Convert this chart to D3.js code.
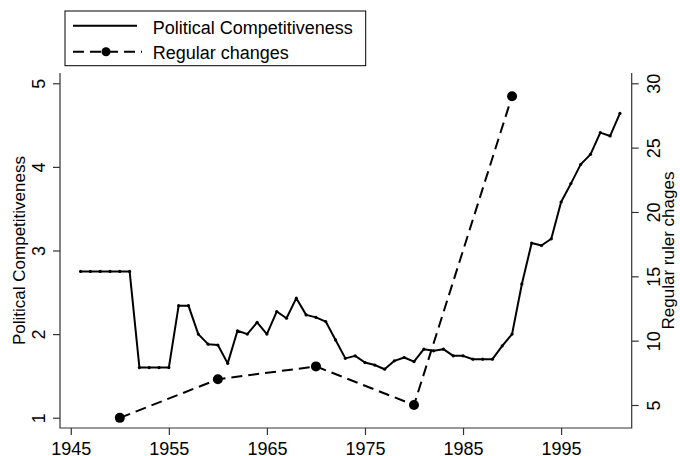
<!DOCTYPE html>
<html>
<head>
<meta charset="utf-8">
<script src="https://cdn.jsdelivr.net/npm/d3@7"></script>
<style>
  html, body { margin: 0; padding: 0; background: #fff; }
  svg { display: block; font-family: "Liberation Sans", Arial, Helvetica, sans-serif; }
</style>
</head>
<body>
<svg id="chart" width="680" height="456"></svg>
<script>
// Political competitiveness index, one value per year
const pcYears = [1946,1947,1948,1949,1950,1951,1952,1953,1954,1955,1956,1957,1958,1959,1960,
  1961,1962,1963,1964,1965,1966,1967,1968,1969,1970,1971,1972,1973,1974,1975,1976,1977,1978,
  1979,1980,1981,1982,1983,1984,1985,1986,1987,1988,1989,1990,1991,1992,1993,1994,1995,1996,
  1997,1998,1999,2000,2001];
const pcValues = [2.75,2.75,2.75,2.75,2.75,2.75,1.60,1.60,1.60,1.60,2.34,2.34,2.00,1.88,1.87,
  1.65,2.04,2.00,2.14,2.00,2.27,2.19,2.43,2.23,2.20,2.15,1.93,1.71,1.74,1.66,1.63,1.58,1.68,
  1.72,1.67,1.82,1.80,1.82,1.74,1.74,1.70,1.70,1.70,1.86,2.00,2.60,3.09,3.06,3.14,3.58,3.80,
  4.03,4.15,4.41,4.37,4.64];

// Regular ruler changes per decade
const rcYears = [1950, 1960, 1970, 1980, 1990];
const rcValues = [4, 7, 8, 5, 29];

// Tick labels
const xTicks = [1945, 1955, 1965, 1975, 1985, 1995];
const leftTicks = [1, 2, 3, 4, 5];
const rightTicks = [5, 10, 15, 20, 25, 30];

const legendLabels = ["Political Competitiveness", "Regular changes"];
const leftTitle = "Political Competitiveness";
const rightTitle = "Regular ruler chages";

const svg = d3.select("#chart");
const L = 60, R = 631.7, T = 73, B = 428;

const x = d3.scaleLinear().domain([1943.9, 2002.2]).range([L, R]);
const yL = d3.scaleLinear().domain([0.877, 5.123]).range([B, T]);
const yR = d3.scaleLinear().domain([3.213, 30.80]).range([B, T]);

const axisColor = "#333";
const axisWidth = 1.2;
const tickFont = 18;
const titleFont = 17;

// Bottom axis
const gx = svg.append("g").attr("transform", `translate(0,${B})`)
  .call(d3.axisBottom(x).tickValues(xTicks).tickFormat(d3.format("d")).tickSize(7));
gx.select(".domain").remove();
gx.selectAll(".tick line").attr("stroke", axisColor).attr("stroke-width", axisWidth);
gx.selectAll(".tick text").attr("y", 27.3).attr("dy", 0)
  .attr("font-size", tickFont).attr("fill", "#000").attr("font-family", null);

// Left axis
const gl = svg.append("g").attr("transform", `translate(${L},0)`)
  .call(d3.axisLeft(yL).tickValues(leftTicks).tickFormat(d3.format("d")).tickSize(7));
gl.select(".domain").remove();
gl.selectAll(".tick line").attr("stroke", axisColor).attr("stroke-width", axisWidth);
gl.selectAll(".tick text").attr("x", 0).attr("dy", 0).attr("text-anchor", "middle")
  .attr("transform", "translate(-15,0) rotate(-90)")
  .attr("font-size", tickFont).attr("fill", "#000").attr("font-family", null);

// Right axis
const gr = svg.append("g").attr("transform", `translate(${R},0)`)
  .call(d3.axisRight(yR).tickValues(rightTicks).tickFormat(d3.format("d")).tickSize(7));
gr.select(".domain").remove();
gr.selectAll(".tick line").attr("stroke", axisColor).attr("stroke-width", axisWidth);
gr.selectAll(".tick text").attr("x", 0).attr("dy", 0).attr("text-anchor", "middle")
  .attr("transform", "translate(28,0) rotate(-90)")
  .attr("font-size", tickFont).attr("fill", "#000").attr("font-family", null);

// Open-topped frame: left, bottom and right sides
svg.append("path")
  .attr("d", `M${L},${T}V${B}H${R}V${T}`)
  .attr("fill", "none").attr("stroke", axisColor).attr("stroke-width", axisWidth);

// Axis titles
svg.append("text")
  .attr("transform", `translate(25,${(T + B) / 2}) rotate(-90)`)
  .attr("text-anchor", "middle").attr("font-size", titleFont).text(leftTitle);
svg.append("text")
  .attr("transform", `translate(674,${(T + B) / 2}) rotate(-90)`)
  .attr("text-anchor", "middle").attr("font-size", titleFont).text(rightTitle);

// Political competitiveness line with small markers
const pc = pcYears.map((yr, i) => ({ yr, v: pcValues[i] }));
svg.append("path").datum(pc)
  .attr("d", d3.line().x(d => x(d.yr)).y(d => yL(d.v)))
  .attr("fill", "none").attr("stroke", "#000").attr("stroke-width", 2)
  .attr("stroke-linejoin", "round");
svg.append("g").selectAll("circle").data(pc).join("circle")
  .attr("cx", d => x(d.yr)).attr("cy", d => yL(d.v)).attr("r", 1.6).attr("fill", "#000");

// Regular changes dashed line with large markers
const rc = rcYears.map((yr, i) => ({ yr, v: rcValues[i] }));
svg.append("path").datum(rc)
  .attr("d", d3.line().x(d => x(d.yr)).y(d => yR(d.v)))
  .attr("fill", "none").attr("stroke", "#000").attr("stroke-width", 2)
  .attr("stroke-dasharray", "11,6");
svg.append("g").selectAll("circle").data(rc).join("circle")
  .attr("cx", d => x(d.yr)).attr("cy", d => yR(d.v)).attr("r", 5).attr("fill", "#000");

// Legend
const lg = svg.append("g");
lg.append("rect").attr("x", 65).attr("y", 11).attr("width", 300.7).attr("height", 54.7)
  .attr("fill", "#fff").attr("stroke", "#000").attr("stroke-width", 1);
lg.append("line").attr("x1", 73).attr("x2", 137).attr("y1", 25.7).attr("y2", 25.7)
  .attr("stroke", "#000").attr("stroke-width", 2);
lg.append("line").attr("x1", 73).attr("x2", 142).attr("y1", 51.7).attr("y2", 51.7)
  .attr("stroke", "#000").attr("stroke-width", 2).attr("stroke-dasharray", "11,6");
lg.append("circle").attr("cx", 106).attr("cy", 51.7).attr("r", 4.5).attr("fill", "#000");
lg.selectAll("text.lab").data(legendLabels).join("text").attr("class", "lab")
  .attr("x", 152.7).attr("y", (d, i) => 34.3 + i * 25)
  .attr("font-size", 18).text(d => d);
</script>
</body>
</html>
